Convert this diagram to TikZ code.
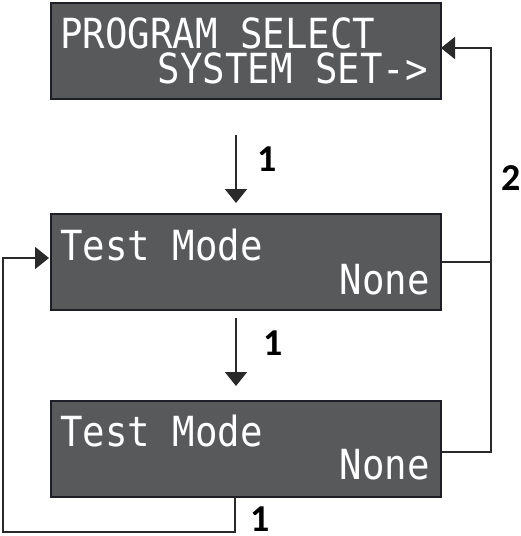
\documentclass[tikz,border=0pt]{standalone}
\usepackage{fontspec}
\usetikzlibrary{arrows.meta,calc}
\newfontfamily\lcdfont[FakeStretch=0.9]{DejaVu Sans Mono}
\newfontfamily\lblfont{Carlito}
\definecolor{lcdfill}{HTML}{58595B}
\definecolor{lcdedge}{HTML}{1E1E26}
\definecolor{linecol}{HTML}{2A2A2A}
\tikzset{
  lcdbox/.style={draw=lcdedge, line width=2pt, fill=lcdfill, minimum width=390pt, minimum height=96pt, inner sep=0pt, anchor=north west},
  lcdtext/.style={text=white, inner sep=0pt, text height=30pt, text depth=0pt, font=\lcdfont\fontsize{41.5}{41.5}\selectfont},
  conn/.style={draw=linecol, line width=1.8pt},
  tip/.style={-{Triangle[width=22pt,length=14pt]}},
  lbl/.style={font=\lblfont\bfseries\fontsize{38}{38}\selectfont, text=black, inner sep=0pt, text height=24pt, text depth=0pt}
}
\begin{document}
\begin{tikzpicture}[x=1pt,y=-1pt]
\useasboundingbox (0,0) rectangle (521,536);
% boxes
\node[lcdbox] (b1) at (50,2) {};
\node[lcdbox] (b2) at (50,213) {};
\node[lcdbox] (b3) at (50,400) {};
% texts
\node[lcdtext, anchor=base west] (t11) at (60,48) {PROGRAM SELECT};
\node[lcdtext, anchor=base east] (t12) at (428,83) {SYSTEM SET->};
\node[lcdtext, anchor=base west] (t21) at (60,260) {Test Mode};
\node[lcdtext, anchor=base east] (t22) at (430,294) {None};
\node[lcdtext, anchor=base west] (t31) at (60,446) {Test Mode};
\node[lcdtext, anchor=base east] (t32) at (430,479) {None};
% coordinates
\coordinate (a1s) at (236,135);
\coordinate (a1e) at (236,203);
\coordinate (a2s) at (236,318);
\coordinate (a2e) at (236,386);
\coordinate (rc) at (491,262);
\coordinate (rt) at (491,48);
\coordinate (b1r) at (441,48);
\coordinate (b3r) at (441,452);
\coordinate (b2r) at (441,262);
\coordinate (b3b) at (235,497);
\coordinate (lb) at (235,532);
\coordinate (ll) at (3,532);
\coordinate (lt) at (3,258);
\coordinate (b2l) at (49,258);
% connectors
\draw[conn,tip] (a1s) -- (a1e);
\draw[conn,tip] (a2s) -- (a2e);
\draw[conn] (b2r) -- (rc);
\draw[conn] (b3r) -| (rc);
\draw[conn,tip] (rc) -- (rt) -- (b1r);
\draw[conn,tip] (b3b) -- (lb) -- (ll) -- (lt) -- (b2l);
% labels
\node[lbl] (l1) at (267,159) {1};
\node[lbl] (l2) at (273,343) {1};
\node[lbl] (l3) at (260,519) {1};
\node[lbl] (l4) at (511,178) {2};
\end{tikzpicture}
\end{document}
